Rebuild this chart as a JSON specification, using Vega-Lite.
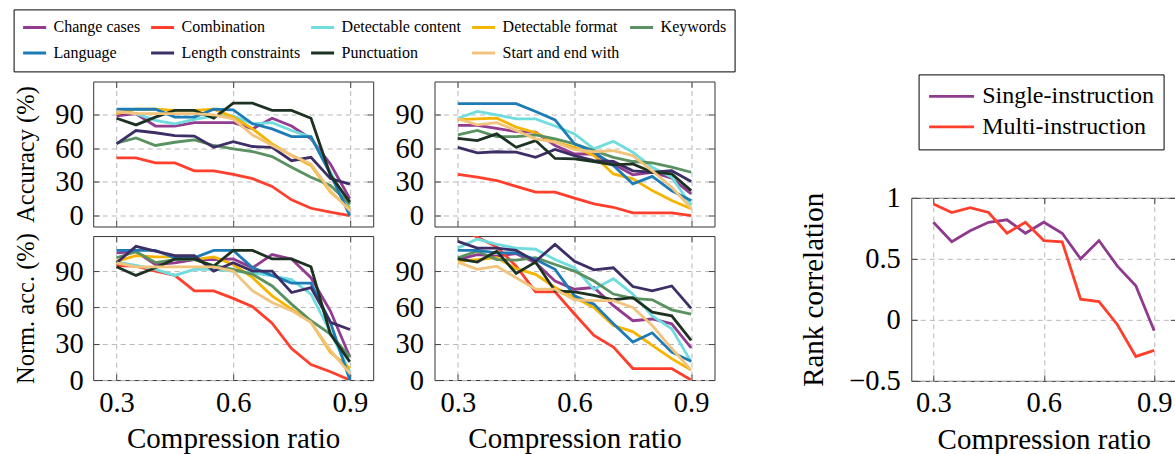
{
"$schema": "https://vega.github.io/schema/vega-lite/v6.json",
"padding": {"left": 12.2, "top": 8.5, "right": 0, "bottom": 0},
"background": "white",
"config": {
  "font": "Liberation Serif",
  "view": {"stroke": "#333333", "strokeWidth": 1},
  "axis": {"grid": true, "gridColor": "#b8b8b8", "gridDash": [5, 4], "gridWidth": 1, "domain": false, "ticks": true, "tickSize": -6, "tickColor": "#444444", "tickWidth": 1, "labelFont": "Liberation Serif", "labelFontSize": 28.5, "labelColor": "black", "titleFont": "Liberation Serif", "titleFontWeight": "normal", "titleColor": "black", "labelFlush": false},
  "legend": {"labelFont": "Liberation Serif", "labelColor": "black", "labelLimit": 400, "title": null, "strokeColor": "black"}
},
"datasets": {
"tl": [
{"c":"Change cases","x":0.3,"y":89},{"c":"Change cases","x":0.35,"y":91},{"c":"Change cases","x":0.4,"y":80},{"c":"Change cases","x":0.45,"y":80},{"c":"Change cases","x":0.5,"y":83},{"c":"Change cases","x":0.55,"y":83},{"c":"Change cases","x":0.6,"y":83},{"c":"Change cases","x":0.65,"y":77.5},{"c":"Change cases","x":0.7,"y":87},{"c":"Change cases","x":0.75,"y":80},{"c":"Change cases","x":0.8,"y":68.5},{"c":"Change cases","x":0.85,"y":46},{"c":"Change cases","x":0.9,"y":15},
{"c":"Combination","x":0.3,"y":51.5},{"c":"Combination","x":0.35,"y":51.5},{"c":"Combination","x":0.4,"y":47},{"c":"Combination","x":0.45,"y":47},{"c":"Combination","x":0.5,"y":40},{"c":"Combination","x":0.55,"y":40},{"c":"Combination","x":0.6,"y":36.7},{"c":"Combination","x":0.65,"y":33},{"c":"Combination","x":0.7,"y":26},{"c":"Combination","x":0.75,"y":14},{"c":"Combination","x":0.8,"y":6.5},{"c":"Combination","x":0.85,"y":3},{"c":"Combination","x":0.9,"y":0},
{"c":"Detectable content","x":0.3,"y":94},{"c":"Detectable content","x":0.35,"y":91},{"c":"Detectable content","x":0.4,"y":85},{"c":"Detectable content","x":0.45,"y":82},{"c":"Detectable content","x":0.5,"y":86},{"c":"Detectable content","x":0.55,"y":89},{"c":"Detectable content","x":0.6,"y":89},{"c":"Detectable content","x":0.65,"y":82},{"c":"Detectable content","x":0.7,"y":83},{"c":"Detectable content","x":0.75,"y":76},{"c":"Detectable content","x":0.8,"y":70},{"c":"Detectable content","x":0.85,"y":39},{"c":"Detectable content","x":0.9,"y":7},
{"c":"Detectable format","x":0.3,"y":91},{"c":"Detectable format","x":0.35,"y":95},{"c":"Detectable format","x":0.4,"y":95},{"c":"Detectable format","x":0.45,"y":94},{"c":"Detectable format","x":0.5,"y":94},{"c":"Detectable format","x":0.55,"y":95},{"c":"Detectable format","x":0.6,"y":88},{"c":"Detectable format","x":0.65,"y":77.5},{"c":"Detectable format","x":0.7,"y":64},{"c":"Detectable format","x":0.75,"y":53.6},{"c":"Detectable format","x":0.8,"y":44.7},{"c":"Detectable format","x":0.85,"y":21},{"c":"Detectable format","x":0.9,"y":6},
{"c":"Keywords","x":0.3,"y":64.7},{"c":"Keywords","x":0.35,"y":69.4},{"c":"Keywords","x":0.4,"y":62.6},{"c":"Keywords","x":0.45,"y":65.5},{"c":"Keywords","x":0.5,"y":67.6},{"c":"Keywords","x":0.55,"y":62.6},{"c":"Keywords","x":0.6,"y":59.6},{"c":"Keywords","x":0.65,"y":57.2},{"c":"Keywords","x":0.7,"y":52.7},{"c":"Keywords","x":0.75,"y":43.2},{"c":"Keywords","x":0.8,"y":34.3},{"c":"Keywords","x":0.85,"y":26.8},{"c":"Keywords","x":0.9,"y":10},
{"c":"Language","x":0.3,"y":95},{"c":"Language","x":0.35,"y":95},{"c":"Language","x":0.4,"y":95},{"c":"Language","x":0.45,"y":88},{"c":"Language","x":0.5,"y":88},{"c":"Language","x":0.55,"y":95},{"c":"Language","x":0.6,"y":94.5},{"c":"Language","x":0.65,"y":82},{"c":"Language","x":0.7,"y":77.5},{"c":"Language","x":0.75,"y":70.6},{"c":"Language","x":0.8,"y":70.6},{"c":"Language","x":0.85,"y":37},{"c":"Language","x":0.9,"y":0},
{"c":"Length constraints","x":0.3,"y":64},{"c":"Length constraints","x":0.35,"y":76},{"c":"Length constraints","x":0.4,"y":74},{"c":"Length constraints","x":0.45,"y":71.5},{"c":"Length constraints","x":0.5,"y":71},{"c":"Length constraints","x":0.55,"y":61},{"c":"Length constraints","x":0.6,"y":66},{"c":"Length constraints","x":0.65,"y":61.7},{"c":"Length constraints","x":0.7,"y":61},{"c":"Length constraints","x":0.75,"y":49},{"c":"Length constraints","x":0.8,"y":52},{"c":"Length constraints","x":0.85,"y":33},{"c":"Length constraints","x":0.9,"y":28},
{"c":"Punctuation","x":0.3,"y":87},{"c":"Punctuation","x":0.35,"y":81},{"c":"Punctuation","x":0.4,"y":88},{"c":"Punctuation","x":0.45,"y":94},{"c":"Punctuation","x":0.5,"y":94},{"c":"Punctuation","x":0.55,"y":87},{"c":"Punctuation","x":0.6,"y":100.4},{"c":"Punctuation","x":0.65,"y":100.4},{"c":"Punctuation","x":0.7,"y":94},{"c":"Punctuation","x":0.75,"y":94},{"c":"Punctuation","x":0.8,"y":87},{"c":"Punctuation","x":0.85,"y":36},{"c":"Punctuation","x":0.9,"y":12},
{"c":"Start and end with","x":0.3,"y":93},{"c":"Start and end with","x":0.35,"y":91},{"c":"Start and end with","x":0.4,"y":91},{"c":"Start and end with","x":0.45,"y":91},{"c":"Start and end with","x":0.5,"y":91},{"c":"Start and end with","x":0.55,"y":90},{"c":"Start and end with","x":0.6,"y":86.4},{"c":"Start and end with","x":0.65,"y":72},{"c":"Start and end with","x":0.7,"y":62.6},{"c":"Start and end with","x":0.75,"y":54},{"c":"Start and end with","x":0.8,"y":46},{"c":"Start and end with","x":0.85,"y":22},{"c":"Start and end with","x":0.9,"y":4.5}
],
"tr": [
{"c":"Change cases","x":0.3,"y":80.5},{"c":"Change cases","x":0.35,"y":80.5},{"c":"Change cases","x":0.4,"y":78},{"c":"Change cases","x":0.45,"y":75},{"c":"Change cases","x":0.5,"y":74.5},{"c":"Change cases","x":0.55,"y":62.6},{"c":"Change cases","x":0.6,"y":55},{"c":"Change cases","x":0.65,"y":55},{"c":"Change cases","x":0.7,"y":46},{"c":"Change cases","x":0.75,"y":36.4},{"c":"Change cases","x":0.8,"y":38.7},{"c":"Change cases","x":0.85,"y":33.4},{"c":"Change cases","x":0.9,"y":19.4},
{"c":"Combination","x":0.3,"y":36.7},{"c":"Combination","x":0.35,"y":34.3},{"c":"Combination","x":0.4,"y":31.3},{"c":"Combination","x":0.45,"y":26},{"c":"Combination","x":0.5,"y":21},{"c":"Combination","x":0.55,"y":21},{"c":"Combination","x":0.6,"y":15.5},{"c":"Combination","x":0.65,"y":10.4},{"c":"Combination","x":0.7,"y":7.4},{"c":"Combination","x":0.75,"y":2.4},{"c":"Combination","x":0.8,"y":2.4},{"c":"Combination","x":0.85,"y":2.4},{"c":"Combination","x":0.9,"y":0},
{"c":"Detectable content","x":0.3,"y":87},{"c":"Detectable content","x":0.35,"y":93},{"c":"Detectable content","x":0.4,"y":90},{"c":"Detectable content","x":0.45,"y":86.4},{"c":"Detectable content","x":0.5,"y":86.4},{"c":"Detectable content","x":0.55,"y":80},{"c":"Detectable content","x":0.6,"y":73},{"c":"Detectable content","x":0.65,"y":59.6},{"c":"Detectable content","x":0.7,"y":66.4},{"c":"Detectable content","x":0.75,"y":56.6},{"c":"Detectable content","x":0.8,"y":43.2},{"c":"Detectable content","x":0.85,"y":34.3},{"c":"Detectable content","x":0.9,"y":9},
{"c":"Detectable format","x":0.3,"y":85.8},{"c":"Detectable format","x":0.35,"y":86.4},{"c":"Detectable format","x":0.4,"y":87},{"c":"Detectable format","x":0.45,"y":79},{"c":"Detectable format","x":0.5,"y":74},{"c":"Detectable format","x":0.55,"y":65.6},{"c":"Detectable format","x":0.6,"y":61},{"c":"Detectable format","x":0.65,"y":53.6},{"c":"Detectable format","x":0.7,"y":37.2},{"c":"Detectable format","x":0.75,"y":32.8},{"c":"Detectable format","x":0.8,"y":22.3},{"c":"Detectable format","x":0.85,"y":13.4},{"c":"Detectable format","x":0.9,"y":6},
{"c":"Keywords","x":0.3,"y":72},{"c":"Keywords","x":0.35,"y":76},{"c":"Keywords","x":0.4,"y":70.6},{"c":"Keywords","x":0.45,"y":70.6},{"c":"Keywords","x":0.5,"y":72},{"c":"Keywords","x":0.55,"y":68.5},{"c":"Keywords","x":0.6,"y":64},{"c":"Keywords","x":0.65,"y":58},{"c":"Keywords","x":0.7,"y":52},{"c":"Keywords","x":0.75,"y":48.3},{"c":"Keywords","x":0.8,"y":47},{"c":"Keywords","x":0.85,"y":43.2},{"c":"Keywords","x":0.9,"y":38.7},
{"c":"Language","x":0.3,"y":100},{"c":"Language","x":0.35,"y":100},{"c":"Language","x":0.4,"y":100},{"c":"Language","x":0.45,"y":100},{"c":"Language","x":0.5,"y":93},{"c":"Language","x":0.55,"y":85.5},{"c":"Language","x":0.6,"y":64},{"c":"Language","x":0.65,"y":57},{"c":"Language","x":0.7,"y":44.7},{"c":"Language","x":0.75,"y":28.3},{"c":"Language","x":0.8,"y":35},{"c":"Language","x":0.85,"y":22},{"c":"Language","x":0.9,"y":13.4},
{"c":"Length constraints","x":0.3,"y":61},{"c":"Length constraints","x":0.35,"y":56},{"c":"Length constraints","x":0.4,"y":57},{"c":"Length constraints","x":0.45,"y":56.6},{"c":"Length constraints","x":0.5,"y":52},{"c":"Length constraints","x":0.55,"y":59},{"c":"Length constraints","x":0.6,"y":53.6},{"c":"Length constraints","x":0.65,"y":49},{"c":"Length constraints","x":0.7,"y":48.3},{"c":"Length constraints","x":0.75,"y":40},{"c":"Length constraints","x":0.8,"y":38.7},{"c":"Length constraints","x":0.85,"y":40},{"c":"Length constraints","x":0.9,"y":30.4},
{"c":"Punctuation","x":0.3,"y":69},{"c":"Punctuation","x":0.35,"y":67},{"c":"Punctuation","x":0.4,"y":73},{"c":"Punctuation","x":0.45,"y":61},{"c":"Punctuation","x":0.5,"y":67},{"c":"Punctuation","x":0.55,"y":51},{"c":"Punctuation","x":0.6,"y":50.6},{"c":"Punctuation","x":0.65,"y":48.3},{"c":"Punctuation","x":0.7,"y":45.3},{"c":"Punctuation","x":0.75,"y":46.2},{"c":"Punctuation","x":0.8,"y":38.7},{"c":"Punctuation","x":0.85,"y":37.2},{"c":"Punctuation","x":0.9,"y":22.3},
{"c":"Start and end with","x":0.3,"y":86.4},{"c":"Start and end with","x":0.35,"y":81},{"c":"Start and end with","x":0.4,"y":83},{"c":"Start and end with","x":0.45,"y":76},{"c":"Start and end with","x":0.5,"y":68.5},{"c":"Start and end with","x":0.55,"y":65.6},{"c":"Start and end with","x":0.6,"y":59},{"c":"Start and end with","x":0.65,"y":57},{"c":"Start and end with","x":0.7,"y":58},{"c":"Start and end with","x":0.75,"y":53.6},{"c":"Start and end with","x":0.8,"y":40},{"c":"Start and end with","x":0.85,"y":25.3},{"c":"Start and end with","x":0.9,"y":6.5}
],
"bl": [
{"c":"Change cases","x":0.3,"y":105},{"c":"Change cases","x":0.35,"y":106},{"c":"Change cases","x":0.4,"y":95.4},{"c":"Change cases","x":0.45,"y":96.8},{"c":"Change cases","x":0.5,"y":99.5},{"c":"Change cases","x":0.55,"y":99.5},{"c":"Change cases","x":0.6,"y":100},{"c":"Change cases","x":0.65,"y":92.7},{"c":"Change cases","x":0.7,"y":103.6},{"c":"Change cases","x":0.75,"y":100},{"c":"Change cases","x":0.8,"y":84.5},{"c":"Change cases","x":0.85,"y":57},{"c":"Change cases","x":0.9,"y":19},
{"c":"Combination","x":0.3,"y":94.6},{"c":"Combination","x":0.35,"y":94},{"c":"Combination","x":0.4,"y":90},{"c":"Combination","x":0.45,"y":86.4},{"c":"Combination","x":0.5,"y":73.6},{"c":"Combination","x":0.55,"y":73.6},{"c":"Combination","x":0.6,"y":67.4},{"c":"Combination","x":0.65,"y":60.5},{"c":"Combination","x":0.7,"y":47},{"c":"Combination","x":0.75,"y":26},{"c":"Combination","x":0.8,"y":12.8},{"c":"Combination","x":0.85,"y":6.8},{"c":"Combination","x":0.9,"y":0},
{"c":"Detectable content","x":0.3,"y":97.4},{"c":"Detectable content","x":0.35,"y":94.6},{"c":"Detectable content","x":0.4,"y":91.4},{"c":"Detectable content","x":0.45,"y":86.4},{"c":"Detectable content","x":0.5,"y":91.4},{"c":"Detectable content","x":0.55,"y":91.4},{"c":"Detectable content","x":0.6,"y":90},{"c":"Detectable content","x":0.65,"y":88.6},{"c":"Detectable content","x":0.7,"y":86},{"c":"Detectable content","x":0.75,"y":83},{"c":"Detectable content","x":0.8,"y":71},{"c":"Detectable content","x":0.85,"y":39.5},{"c":"Detectable content","x":0.9,"y":6.8},
{"c":"Detectable format","x":0.3,"y":98},{"c":"Detectable format","x":0.35,"y":102.8},{"c":"Detectable format","x":0.4,"y":101.7},{"c":"Detectable format","x":0.45,"y":101.7},{"c":"Detectable format","x":0.5,"y":99.5},{"c":"Detectable format","x":0.55,"y":101.7},{"c":"Detectable format","x":0.6,"y":95.4},{"c":"Detectable format","x":0.65,"y":84.5},{"c":"Detectable format","x":0.7,"y":69.5},{"c":"Detectable format","x":0.75,"y":58.6},{"c":"Detectable format","x":0.8,"y":47.7},{"c":"Detectable format","x":0.85,"y":23},{"c":"Detectable format","x":0.9,"y":9.5},
{"c":"Keywords","x":0.3,"y":101},{"c":"Keywords","x":0.35,"y":106},{"c":"Keywords","x":0.4,"y":97},{"c":"Keywords","x":0.45,"y":99.5},{"c":"Keywords","x":0.5,"y":99.5},{"c":"Keywords","x":0.55,"y":94.6},{"c":"Keywords","x":0.6,"y":91.4},{"c":"Keywords","x":0.65,"y":87.3},{"c":"Keywords","x":0.7,"y":77.7},{"c":"Keywords","x":0.75,"y":62.7},{"c":"Keywords","x":0.8,"y":49},{"c":"Keywords","x":0.85,"y":38},{"c":"Keywords","x":0.9,"y":19},
{"c":"Language","x":0.3,"y":107},{"c":"Language","x":0.35,"y":107},{"c":"Language","x":0.4,"y":107},{"c":"Language","x":0.45,"y":101},{"c":"Language","x":0.5,"y":101},{"c":"Language","x":0.55,"y":107},{"c":"Language","x":0.6,"y":107},{"c":"Language","x":0.65,"y":92.7},{"c":"Language","x":0.7,"y":86.4},{"c":"Language","x":0.75,"y":80},{"c":"Language","x":0.8,"y":80},{"c":"Language","x":0.85,"y":47.7},{"c":"Language","x":0.9,"y":0},
{"c":"Length constraints","x":0.3,"y":96.8},{"c":"Length constraints","x":0.35,"y":110.4},{"c":"Length constraints","x":0.4,"y":106.4},{"c":"Length constraints","x":0.45,"y":102.8},{"c":"Length constraints","x":0.5,"y":102.8},{"c":"Length constraints","x":0.55,"y":90},{"c":"Length constraints","x":0.6,"y":96.8},{"c":"Length constraints","x":0.65,"y":90},{"c":"Length constraints","x":0.7,"y":90},{"c":"Length constraints","x":0.75,"y":72.3},{"c":"Length constraints","x":0.8,"y":76.4},{"c":"Length constraints","x":0.85,"y":47.7},{"c":"Length constraints","x":0.9,"y":41.7},
{"c":"Punctuation","x":0.3,"y":93.5},{"c":"Punctuation","x":0.35,"y":86.4},{"c":"Punctuation","x":0.4,"y":92.7},{"c":"Punctuation","x":0.45,"y":100},{"c":"Punctuation","x":0.5,"y":100},{"c":"Punctuation","x":0.55,"y":94},{"c":"Punctuation","x":0.6,"y":107},{"c":"Punctuation","x":0.65,"y":107},{"c":"Punctuation","x":0.7,"y":100},{"c":"Punctuation","x":0.75,"y":100},{"c":"Punctuation","x":0.8,"y":93.5},{"c":"Punctuation","x":0.85,"y":38},{"c":"Punctuation","x":0.9,"y":15},
{"c":"Start and end with","x":0.3,"y":96.8},{"c":"Start and end with","x":0.35,"y":93.5},{"c":"Start and end with","x":0.4,"y":93.5},{"c":"Start and end with","x":0.45,"y":93.5},{"c":"Start and end with","x":0.5,"y":93.5},{"c":"Start and end with","x":0.55,"y":93.5},{"c":"Start and end with","x":0.6,"y":90},{"c":"Start and end with","x":0.65,"y":73.6},{"c":"Start and end with","x":0.7,"y":64},{"c":"Start and end with","x":0.75,"y":57.3},{"c":"Start and end with","x":0.8,"y":47.7},{"c":"Start and end with","x":0.85,"y":24.5},{"c":"Start and end with","x":0.9,"y":5.5}
],
"br": [
{"c":"Change cases","x":0.3,"y":99.5},{"c":"Change cases","x":0.35,"y":103.6},{"c":"Change cases","x":0.4,"y":102.3},{"c":"Change cases","x":0.45,"y":104.4},{"c":"Change cases","x":0.5,"y":96.8},{"c":"Change cases","x":0.55,"y":81.8},{"c":"Change cases","x":0.6,"y":75},{"c":"Change cases","x":0.65,"y":76.4},{"c":"Change cases","x":0.7,"y":61.4},{"c":"Change cases","x":0.75,"y":49},{"c":"Change cases","x":0.8,"y":50.4},{"c":"Change cases","x":0.85,"y":46.4},{"c":"Change cases","x":0.9,"y":26.5},
{"c":"Combination","x":0.3,"y":126},{"c":"Combination","x":0.35,"y":118},{"c":"Combination","x":0.4,"y":110},{"c":"Combination","x":0.45,"y":94},{"c":"Combination","x":0.5,"y":72.8},{"c":"Combination","x":0.55,"y":72.8},{"c":"Combination","x":0.6,"y":54.5},{"c":"Combination","x":0.65,"y":36.8},{"c":"Combination","x":0.7,"y":27.3},{"c":"Combination","x":0.75,"y":9.5},{"c":"Combination","x":0.8,"y":9.5},{"c":"Combination","x":0.85,"y":9.5},{"c":"Combination","x":0.9,"y":0},
{"c":"Detectable content","x":0.3,"y":109},{"c":"Detectable content","x":0.35,"y":116.4},{"c":"Detectable content","x":0.4,"y":112},{"c":"Detectable content","x":0.45,"y":109},{"c":"Detectable content","x":0.5,"y":108},{"c":"Detectable content","x":0.55,"y":99.5},{"c":"Detectable content","x":0.6,"y":92.7},{"c":"Detectable content","x":0.65,"y":75},{"c":"Detectable content","x":0.7,"y":83.7},{"c":"Detectable content","x":0.75,"y":71},{"c":"Detectable content","x":0.8,"y":53},{"c":"Detectable content","x":0.85,"y":42.3},{"c":"Detectable content","x":0.9,"y":15},
{"c":"Detectable format","x":0.3,"y":98},{"c":"Detectable format","x":0.35,"y":99.5},{"c":"Detectable format","x":0.4,"y":101},{"c":"Detectable format","x":0.45,"y":92},{"c":"Detectable format","x":0.5,"y":87.3},{"c":"Detectable format","x":0.55,"y":76.4},{"c":"Detectable format","x":0.6,"y":68.2},{"c":"Detectable format","x":0.65,"y":60},{"c":"Detectable format","x":0.7,"y":45},{"c":"Detectable format","x":0.75,"y":40},{"c":"Detectable format","x":0.8,"y":28.6},{"c":"Detectable format","x":0.85,"y":17.7},{"c":"Detectable format","x":0.9,"y":8.2},
{"c":"Keywords","x":0.3,"y":101},{"c":"Keywords","x":0.35,"y":106.4},{"c":"Keywords","x":0.4,"y":99.5},{"c":"Keywords","x":0.45,"y":99},{"c":"Keywords","x":0.5,"y":101},{"c":"Keywords","x":0.55,"y":95.4},{"c":"Keywords","x":0.6,"y":90},{"c":"Keywords","x":0.65,"y":81.8},{"c":"Keywords","x":0.7,"y":71},{"c":"Keywords","x":0.75,"y":67.4},{"c":"Keywords","x":0.8,"y":66.3},{"c":"Keywords","x":0.85,"y":58},{"c":"Keywords","x":0.9,"y":54.5},
{"c":"Language","x":0.3,"y":107},{"c":"Language","x":0.35,"y":107},{"c":"Language","x":0.4,"y":105},{"c":"Language","x":0.45,"y":105},{"c":"Language","x":0.5,"y":99.5},{"c":"Language","x":0.55,"y":91.4},{"c":"Language","x":0.6,"y":69.5},{"c":"Language","x":0.65,"y":62.7},{"c":"Language","x":0.7,"y":46.4},{"c":"Language","x":0.75,"y":31.4},{"c":"Language","x":0.8,"y":39},{"c":"Language","x":0.85,"y":23},{"c":"Language","x":0.9,"y":15.5},
{"c":"Length constraints","x":0.3,"y":114.5},{"c":"Length constraints","x":0.35,"y":109},{"c":"Length constraints","x":0.4,"y":109},{"c":"Length constraints","x":0.45,"y":107},{"c":"Length constraints","x":0.5,"y":98},{"c":"Length constraints","x":0.55,"y":112},{"c":"Length constraints","x":0.6,"y":98},{"c":"Length constraints","x":0.65,"y":91},{"c":"Length constraints","x":0.7,"y":92.7},{"c":"Length constraints","x":0.75,"y":77.2},{"c":"Length constraints","x":0.8,"y":73.6},{"c":"Length constraints","x":0.85,"y":77.7},{"c":"Length constraints","x":0.9,"y":59.2},
{"c":"Punctuation","x":0.3,"y":100},{"c":"Punctuation","x":0.35,"y":97.4},{"c":"Punctuation","x":0.4,"y":106.4},{"c":"Punctuation","x":0.45,"y":88},{"c":"Punctuation","x":0.5,"y":97.4},{"c":"Punctuation","x":0.55,"y":73.6},{"c":"Punctuation","x":0.6,"y":72.8},{"c":"Punctuation","x":0.65,"y":70},{"c":"Punctuation","x":0.7,"y":66.3},{"c":"Punctuation","x":0.75,"y":68},{"c":"Punctuation","x":0.8,"y":56},{"c":"Punctuation","x":0.85,"y":53},{"c":"Punctuation","x":0.9,"y":32.7},
{"c":"Start and end with","x":0.3,"y":97.4},{"c":"Start and end with","x":0.35,"y":91.4},{"c":"Start and end with","x":0.4,"y":94},{"c":"Start and end with","x":0.45,"y":84.5},{"c":"Start and end with","x":0.5,"y":75},{"c":"Start and end with","x":0.55,"y":75},{"c":"Start and end with","x":0.6,"y":66.3},{"c":"Start and end with","x":0.65,"y":65.5},{"c":"Start and end with","x":0.7,"y":65.5},{"c":"Start and end with","x":0.75,"y":60},{"c":"Start and end with","x":0.8,"y":45},{"c":"Start and end with","x":0.85,"y":26},{"c":"Start and end with","x":0.9,"y":8.2}
],
"rc": [
{"s":"Single-instruction","x":0.3,"y":0.8},{"s":"Single-instruction","x":0.35,"y":0.64},{"s":"Single-instruction","x":0.4,"y":0.73},{"s":"Single-instruction","x":0.45,"y":0.8},{"s":"Single-instruction","x":0.5,"y":0.82},{"s":"Single-instruction","x":0.55,"y":0.71},{"s":"Single-instruction","x":0.6,"y":0.8},{"s":"Single-instruction","x":0.65,"y":0.71},{"s":"Single-instruction","x":0.7,"y":0.5},{"s":"Single-instruction","x":0.75,"y":0.65},{"s":"Single-instruction","x":0.8,"y":0.44},{"s":"Single-instruction","x":0.85,"y":0.28},{"s":"Single-instruction","x":0.9,"y":-0.09},
{"s":"Multi-instruction","x":0.3,"y":0.95},{"s":"Multi-instruction","x":0.35,"y":0.88},{"s":"Multi-instruction","x":0.4,"y":0.92},{"s":"Multi-instruction","x":0.45,"y":0.88},{"s":"Multi-instruction","x":0.5,"y":0.71},{"s":"Multi-instruction","x":0.55,"y":0.8},{"s":"Multi-instruction","x":0.6,"y":0.65},{"s":"Multi-instruction","x":0.65,"y":0.64},{"s":"Multi-instruction","x":0.7,"y":0.17},{"s":"Multi-instruction","x":0.75,"y":0.15},{"s":"Multi-instruction","x":0.8,"y":-0.04},{"s":"Multi-instruction","x":0.85,"y":-0.3},{"s":"Multi-instruction","x":0.9,"y":-0.25}
]
},
"bounds": "full",
"spacing": 83.1,
"hconcat": [
 {"bounds": "full", "spacing": -5.45, "vconcat": [
   {"bounds": "full", "spacing": 20.3, "hconcat": [
     {"width": 280, "height": 145, "data": {"name": "tl"},
      "layer": [
       {"mark": {"type": "line", "clip": true, "strokeWidth": 2.8},
        "encoding": {
          "x": {"field": "x", "type": "quantitative", "scale": {"domain": [0.24, 0.96], "nice": false, "zero": false}, "axis": {"values": [0.3, 0.6, 0.9], "labels": false, "title": null}},
          "y": {"field": "y", "type": "quantitative", "scale": {"domain": [-9.8, 119.8], "nice": false, "zero": false}, "axis": {"values": [0, 30, 60, 90], "title": "Accuracy (%)", "titleFontSize": 24.5, "titlePadding": 16.5, "labelPadding": 16}},
          "color": {"field": "c", "type": "nominal",
            "scale": {"domain": ["Change cases","Combination","Detectable content","Detectable format","Keywords","Language","Length constraints","Punctuation","Start and end with"], "range": ["#933b91","#ff3f2c","#6fdcdd","#f5b400","#5a9160","#1d7bb6","#3d2e66","#1d3222","#f2c37c"]},
            "legend": {"orient": "none", "direction": "horizontal", "legendX": -79.6, "legendY": -72.1, "columns": 5, "columnPadding": 9, "rowPadding": 5.7, "padding": 8, "clipHeight": 20, "symbolType": "stroke", "symbolSize": 529, "symbolStrokeWidth": 3, "labelFontSize": 16, "labelOffset": 6}}
        }},
       {"mark": {"type": "line", "opacity": 0},
        "encoding": {
          "x": {"field": "x", "type": "quantitative", "axis": {"orient": "top", "values": [0.3, 0.6, 0.9], "labels": false, "grid": false, "title": null, "minExtent": 0}},
          "y": {"field": "y", "type": "quantitative", "axis": {"orient": "right", "values": [0, 30, 60, 90], "labels": false, "grid": false, "title": null, "minExtent": 0}}
        }}
      ],
      "resolve": {"axis": {"x": "independent", "y": "independent"}}},
     {"width": 280, "height": 145, "data": {"name": "tr"},
      "layer": [
       {"mark": {"type": "line", "clip": true, "strokeWidth": 2.8},
        "encoding": {
          "x": {"field": "x", "type": "quantitative", "scale": {"domain": [0.24, 0.96], "nice": false, "zero": false}, "axis": {"values": [0.3, 0.6, 0.9], "labels": false, "title": null}},
          "y": {"field": "y", "type": "quantitative", "scale": {"domain": [-9.8, 119.8], "nice": false, "zero": false}, "axis": {"values": [0, 30, 60, 90], "title": null, "labelPadding": 17}},
          "color": {"field": "c", "type": "nominal",
            "scale": {"domain": ["Change cases","Combination","Detectable content","Detectable format","Keywords","Language","Length constraints","Punctuation","Start and end with"], "range": ["#933b91","#ff3f2c","#6fdcdd","#f5b400","#5a9160","#1d7bb6","#3d2e66","#1d3222","#f2c37c"]},
            "legend": {"orient": "none", "direction": "horizontal", "legendX": -79.6, "legendY": -72.1, "columns": 5, "columnPadding": 9, "rowPadding": 5.7, "padding": 8, "clipHeight": 20, "symbolType": "stroke", "symbolSize": 529, "symbolStrokeWidth": 3, "labelFontSize": 16, "labelOffset": 6}}
        }},
       {"mark": {"type": "line", "opacity": 0},
        "encoding": {
          "x": {"field": "x", "type": "quantitative", "axis": {"orient": "top", "values": [0.3, 0.6, 0.9], "labels": false, "grid": false, "title": null, "minExtent": 0}},
          "y": {"field": "y", "type": "quantitative", "axis": {"orient": "right", "values": [0, 30, 60, 90], "labels": false, "grid": false, "title": null, "minExtent": 0}}
        }}
      ],
      "resolve": {"axis": {"x": "independent", "y": "independent"}}}
   ]},
   {"bounds": "full", "spacing": 20.3, "hconcat": [
     {"width": 280, "height": 144, "data": {"name": "bl"},
      "layer": [
       {"mark": {"type": "line", "clip": true, "strokeWidth": 2.8},
        "encoding": {
          "x": {"field": "x", "type": "quantitative", "scale": {"domain": [0.24, 0.96], "nice": false, "zero": false}, "axis": {"values": [0.3, 0.6, 0.9], "format": ".1f", "labelPadding": 14, "title": "Compression ratio", "titleFontSize": 29, "titlePadding": 8}},
          "y": {"field": "y", "type": "quantitative", "scale": {"domain": [0, 118.9], "nice": false, "zero": false}, "axis": {"values": [0, 30, 60, 90], "title": "Norm. acc. (%)", "titleFontSize": 24.5, "titlePadding": 16.5, "labelPadding": 16}},
          "color": {"field": "c", "type": "nominal",
            "scale": {"domain": ["Change cases","Combination","Detectable content","Detectable format","Keywords","Language","Length constraints","Punctuation","Start and end with"], "range": ["#933b91","#ff3f2c","#6fdcdd","#f5b400","#5a9160","#1d7bb6","#3d2e66","#1d3222","#f2c37c"]},
            "legend": {"orient": "none", "direction": "horizontal", "legendX": -79.6, "legendY": -72.1, "columns": 5, "columnPadding": 9, "rowPadding": 5.7, "padding": 8, "clipHeight": 20, "symbolType": "stroke", "symbolSize": 529, "symbolStrokeWidth": 3, "labelFontSize": 16, "labelOffset": 6}}
        }},
       {"mark": {"type": "line", "opacity": 0},
        "encoding": {
          "x": {"field": "x", "type": "quantitative", "axis": {"orient": "top", "values": [0.3, 0.6, 0.9], "labels": false, "grid": false, "title": null, "minExtent": 0}},
          "y": {"field": "y", "type": "quantitative", "axis": {"orient": "right", "values": [0, 30, 60, 90], "labels": false, "grid": false, "title": null, "minExtent": 0}}
        }}
      ],
      "resolve": {"axis": {"x": "independent", "y": "independent"}}},
     {"width": 280, "height": 144, "data": {"name": "br"},
      "layer": [
       {"mark": {"type": "line", "clip": true, "strokeWidth": 2.8},
        "encoding": {
          "x": {"field": "x", "type": "quantitative", "scale": {"domain": [0.24, 0.96], "nice": false, "zero": false}, "axis": {"values": [0.3, 0.6, 0.9], "format": ".1f", "labelPadding": 14, "title": "Compression ratio", "titleFontSize": 29, "titlePadding": 8}},
          "y": {"field": "y", "type": "quantitative", "scale": {"domain": [0, 118.9], "nice": false, "zero": false}, "axis": {"values": [0, 30, 60, 90], "title": null, "labelPadding": 17}},
          "color": {"field": "c", "type": "nominal",
            "scale": {"domain": ["Change cases","Combination","Detectable content","Detectable format","Keywords","Language","Length constraints","Punctuation","Start and end with"], "range": ["#933b91","#ff3f2c","#6fdcdd","#f5b400","#5a9160","#1d7bb6","#3d2e66","#1d3222","#f2c37c"]},
            "legend": {"orient": "none", "direction": "horizontal", "legendX": -79.6, "legendY": -72.1, "columns": 5, "columnPadding": 9, "rowPadding": 5.7, "padding": 8, "clipHeight": 20, "symbolType": "stroke", "symbolSize": 529, "symbolStrokeWidth": 3, "labelFontSize": 16, "labelOffset": 6}}
        }},
       {"mark": {"type": "line", "opacity": 0},
        "encoding": {
          "x": {"field": "x", "type": "quantitative", "axis": {"orient": "top", "values": [0.3, 0.6, 0.9], "labels": false, "grid": false, "title": null, "minExtent": 0}},
          "y": {"field": "y", "type": "quantitative", "axis": {"orient": "right", "values": [0, 30, 60, 90], "labels": false, "grid": false, "title": null, "minExtent": 0}}
        }}
      ],
      "resolve": {"axis": {"x": "independent", "y": "independent"}}}
   ]}
 ]},
 {"bounds": "full", "spacing": 11.35, "vconcat": [
   {"width": 100, "height": 90, "data": {"values": [{}]}, "mark": {"type": "text", "text": ""}, "view": {"stroke": null}},
   {"width": 265, "height": 183, "data": {"name": "rc"},
    "layer": [
     {"mark": {"type": "line", "clip": true, "strokeWidth": 2.8},
      "encoding": {
        "x": {"field": "x", "type": "quantitative", "scale": {"domain": [0.24, 0.96], "nice": false, "zero": false}, "axis": {"values": [0.3, 0.6, 0.9], "format": ".1f", "labelPadding": 14, "title": "Compression ratio", "titleFontSize": 29, "titlePadding": 8}},
        "y": {"field": "y", "type": "quantitative", "scale": {"domain": [-0.5, 1], "nice": false, "zero": false}, "axis": {"values": [-0.5, 0, 0.5, 1], "format": "~g", "title": "Rank correlation", "titleFontSize": 29, "titlePadding": 19.6, "labelPadding": 17}},
        "stroke": {"field": "s", "type": "nominal",
          "scale": {"domain": ["Single-instruction", "Multi-instruction"], "range": ["#8e3a8e", "#ff3f2c"]},
          "legend": {"orient": "none", "legendX": 825.4, "legendY": -7.1, "padding": 9, "rowPadding": 4.5, "clipHeight": 26, "symbolType": "stroke", "symbolSize": 2025, "symbolStrokeWidth": 2.8, "labelFontSize": 24, "labelOffset": 6.6}}
      }},
     {"mark": {"type": "line", "opacity": 0},
      "encoding": {
        "x": {"field": "x", "type": "quantitative", "axis": {"orient": "top", "values": [0.3, 0.6, 0.9], "labels": false, "grid": false, "title": null, "minExtent": 0}},
        "y": {"field": "y", "type": "quantitative", "axis": {"orient": "right", "values": [-0.5, 0, 0.5, 1], "labels": false, "grid": false, "title": null, "minExtent": 0}}
      }}
    ],
    "resolve": {"axis": {"x": "independent", "y": "independent"}}}
 ]}
]
}
